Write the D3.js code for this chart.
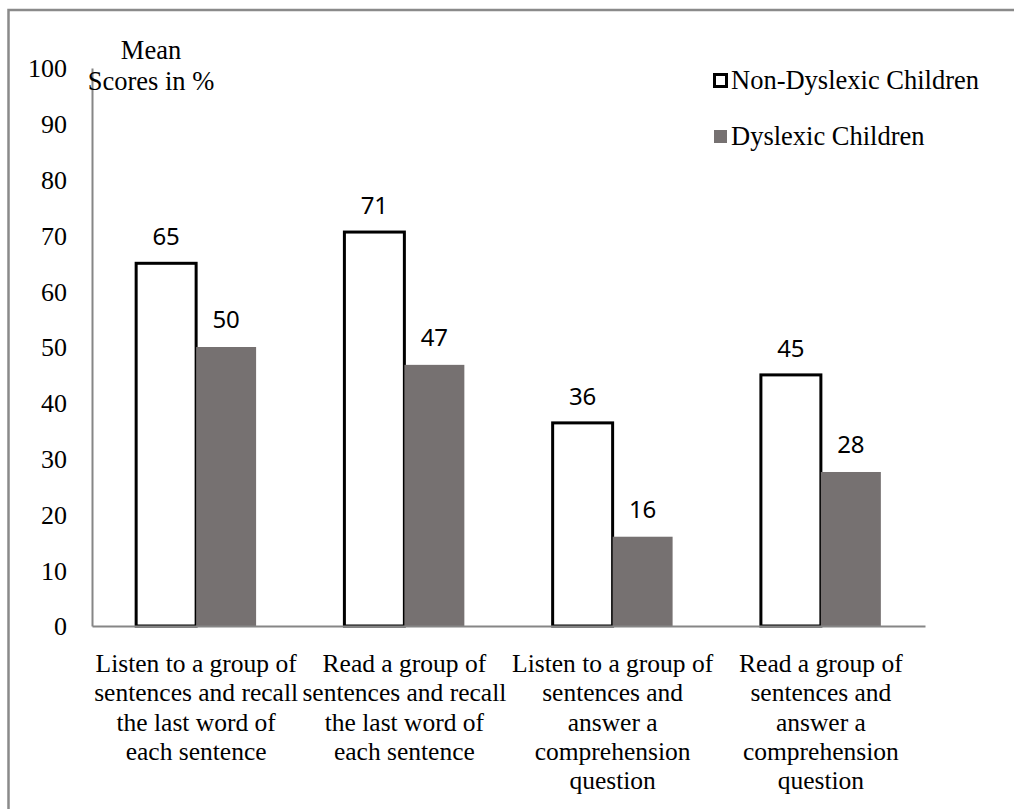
<!DOCTYPE html>
<html>
<head>
<meta charset="utf-8">
<script src="https://cdn.jsdelivr.net/npm/d3@7"></script>
<style>
  body { margin: 0; background: #fff; }
  svg { display: block; }
  .serif { font-family: "Liberation Serif", "Times New Roman", serif; fill: #000; }
  .val { font-family: "Noto Sans", "Open Sans", sans-serif; font-size: 24px; fill: #000; }
</style>
</head>
<body>
<div id="chart"></div>
<script>
// chart data
var categories = [
  ["Listen to a group of", "sentences and recall", "the last word of", "each sentence"],
  ["Read a group of", "sentences and recall", "the last word of", "each sentence"],
  ["Listen to a group of", "sentences and", "answer a", "comprehension", "question"],
  ["Read a group of", "sentences and", "answer a", "comprehension", "question"]
];
var seriesNames = ["Non-Dyslexic Children", "Dyslexic Children"];
var nonDyslexic = [65, 70.6, 36.4, 45];
var dyslexic = [50, 46.8, 16, 27.6];
var yTicks = [0, 10, 20, 30, 40, 50, 60, 70, 80, 90, 100];

function makeChart() {
  var svgWidth = 1014;
  var svgHeight = 809;

  // plot area in page pixels
  var plot = { left: 92, right: 925, top: 68, bottom: 626 };

  var svg = d3.select("#chart")
    .append("svg")
    .attr("width", svgWidth)
    .attr("height", svgHeight);

  // outer frame (right and bottom edges fall outside the page)
  svg.append("rect")
    .attr("x", 8.5)
    .attr("y", 10)
    .attr("width", 1100)
    .attr("height", 900)
    .attr("fill", "none")
    .attr("stroke", "#8a8a8a")
    .attr("stroke-width", 2.5);

  var idx = categories.map((d, i) => i);

  var xScale = d3.scaleBand()
    .domain(idx)
    .range([plot.left, plot.right])
    .paddingInner(0.424)
    .paddingOuter(0.212);

  var yScale = d3.scaleLinear()
    .domain([0, 100])
    .range([plot.bottom, plot.top]);

  var barW = xScale.bandwidth() / 2;

  // white outlined bars
  svg.append("g").selectAll("rect")
    .data(nonDyslexic)
    .enter()
    .append("rect")
    .attr("x", (d, i) => xScale(i))
    .attr("y", d => yScale(d))
    .attr("width", barW)
    .attr("height", d => yScale(0) - yScale(d))
    .attr("fill", "#fff")
    .attr("stroke", "#000")
    .attr("stroke-width", 3);

  // grey bars
  svg.append("g").selectAll("rect")
    .data(dyslexic)
    .enter()
    .append("rect")
    .attr("x", (d, i) => xScale(i) + barW)
    .attr("y", d => yScale(d))
    .attr("width", barW)
    .attr("height", d => yScale(0) - yScale(d))
    .attr("fill", "#767171");

  // value labels
  var fmt = d3.format(".0f");
  svg.append("g").selectAll("text")
    .data(nonDyslexic)
    .enter()
    .append("text")
    .attr("class", "val")
    .attr("text-anchor", "middle")
    .attr("x", (d, i) => xScale(i) + barW / 2)
    .attr("y", d => yScale(d) - 18)
    .text(d => fmt(d));

  svg.append("g").selectAll("text")
    .data(dyslexic)
    .enter()
    .append("text")
    .attr("class", "val")
    .attr("text-anchor", "middle")
    .attr("x", (d, i) => xScale(i) + barW * 1.5)
    .attr("y", d => yScale(d) - 19)
    .text(d => fmt(d));

  // y axis
  var leftAxis = d3.axisLeft(yScale)
    .tickValues(yTicks)
    .tickSize(0)
    .tickPadding(25);

  var yAxis = svg.append("g")
    .attr("transform", `translate(${plot.left}, 0)`)
    .call(leftAxis);
  yAxis.select(".domain").attr("stroke", "#868686").attr("stroke-width", 2);
  yAxis.selectAll(".tick text")
    .style("font-family", "'Liberation Serif', 'Times New Roman', serif")
    .style("font-size", "26px")
    .style("fill", "#000")
    .attr("dy", "0.34em");

  // x axis
  var bottomAxis = d3.axisBottom(xScale)
    .tickSize(0)
    .tickFormat("");

  var xAxis = svg.append("g")
    .attr("transform", `translate(0, ${plot.bottom})`)
    .call(bottomAxis);
  xAxis.select(".domain").attr("stroke", "#868686").attr("stroke-width", 2.2);

  var catLabels = svg.append("g").selectAll("text")
    .data(categories)
    .enter()
    .append("text")
    .attr("class", "serif")
    .attr("font-size", 25.5)
    .attr("text-anchor", "middle")
    .attr("x", (d, i) => xScale(i) + xScale.bandwidth() / 2)
    .attr("y", 672);

  catLabels.selectAll("tspan")
    .data(d => d)
    .enter()
    .append("tspan")
    .attr("x", function() { return d3.select(this.parentNode).attr("x"); })
    .attr("dy", (d, i) => i === 0 ? 0 : 29.3)
    .text(d => d);

  // y axis title
  var yTitle = svg.append("text")
    .attr("class", "serif")
    .attr("font-size", 26.5)
    .attr("text-anchor", "middle")
    .attr("x", 151)
    .attr("y", 59);
  yTitle.append("tspan").attr("x", 151).text("Mean");
  yTitle.append("tspan").attr("x", 151).attr("dy", 31).text("Scores in %");

  // legend
  var legend = svg.append("g");
  legend.append("rect")
    .attr("x", 714.5)
    .attr("y", 74.5)
    .attr("width", 12)
    .attr("height", 12)
    .attr("fill", "#fff")
    .attr("stroke", "#000")
    .attr("stroke-width", 3);
  legend.append("rect")
    .attr("x", 714)
    .attr("y", 130)
    .attr("width", 13)
    .attr("height", 13)
    .attr("fill", "#767171");
  legend.selectAll("text")
    .data(seriesNames)
    .enter()
    .append("text")
    .attr("class", "serif")
    .attr("font-size", 26.5)
    .attr("x", 731)
    .attr("y", (d, i) => 89 + i * 56)
    .text(d => d);
}

makeChart();
</script>
</body>
</html>
